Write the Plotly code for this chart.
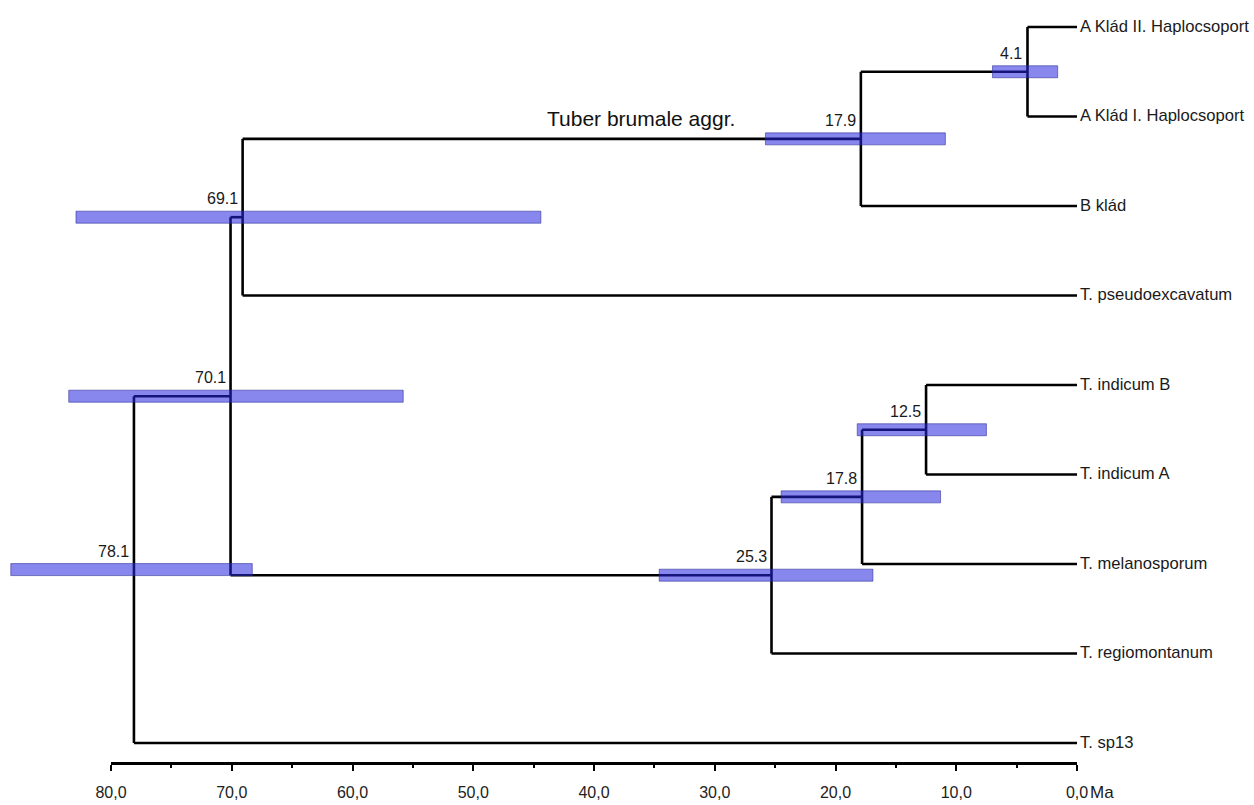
import plotly.graph_objects as go

# Tips, top to bottom
tip_names = [
    "A Klád II. Haplocsoport",
    "A Klád I. Haplocsoport",
    "B klád",
    "T. pseudoexcavatum",
    "T. indicum B",
    "T. indicum A",
    "T. melanosporum",
    "T. regiomontanum",
    "T. sp13",
]

# Internal nodes (children listed before parents): age in Ma and 95% HPD interval
node_ages = [4.1, 17.9, 69.1, 12.5, 17.8, 25.3, 70.1, 78.1]
hpd_low = [1.6, 10.9, 44.4, 7.5, 11.3, 16.9, 55.8, 68.3]
hpd_high = [7.0, 25.8, 82.9, 18.2, 24.5, 34.6, 83.5, 88.3]
node_children = [
    ("t0", "t1"),
    ("n0", "t2"),
    ("n1", "t3"),
    ("t4", "t5"),
    ("n3", "t6"),
    ("n4", "t7"),
    ("n2", "n5"),
    ("n6", "t8"),
]

clade_name = "Tuber brumale aggr."
clade_node = 1
clade_label_age = 36.1

axis_ticks = [80, 70, 60, 50, 40, 30, 20, 10, 0]
axis_tick_labels = ["80,0", "70,0", "60,0", "50,0", "40,0", "30,0", "20,0", "10,0", "0,0"]
axis_minor_ticks = [75, 65, 55, 45, 35, 25, 15, 5]
axis_unit = "Ma"

FONT = "Liberation Sans, Arial, sans-serif"
W, H = 1254, 805
PX_PER_TIP = 89.5
TOP_TIP_PX = 27
X_LEFT_PX, X_RIGHT_PX = 111, 1077
PX_PER_MA = (X_RIGHT_PX - X_LEFT_PX) / 80.0
AXIS_LINE_PX = 763

# --- layout of the tree -----------------------------------------------------
node_y = []


def position(ref):
    kind, idx = ref[0], int(ref[1:])
    if kind == "t":
        return 0.0, float(idx)
    return node_ages[idx], node_y[idx]


for a, b in node_children:
    node_y.append((position(a)[1] + position(b)[1]) / 2.0)

bx, by = [], []
for j, (a, b) in enumerate(node_children):
    age = node_ages[j]
    xa, ya = position(a)
    xb, yb = position(b)
    bx += [age, age, None]
    by += [ya, yb, None]
    for xc, yc in ((xa, ya), (xb, yb)):
        bx += [age, xc, None]
        by += [yc, yc, None]

fig = go.Figure()

# branches
fig.add_trace(go.Scatter(
    x=bx, y=by, mode="lines",
    line=dict(color="#000000", width=2.6),
    hoverinfo="skip", showlegend=False,
))

# time-scale axis (separate x axis spanning 80 -> 0 Ma)
fig.add_trace(go.Scatter(
    x=axis_ticks, y=[0] * len(axis_ticks), xaxis="x2", yaxis="y",
    mode="markers", marker=dict(opacity=0), hoverinfo="skip", showlegend=False,
))

# HPD bars, drawn over the branches
bar_half = 6.0 / PX_PER_TIP
shapes = []
for j, age in enumerate(node_ages):
    shapes.append(dict(
        type="rect", xref="x", yref="y", layer="above",
        x0=hpd_high[j], x1=hpd_low[j],
        y0=node_y[j] - bar_half, y1=node_y[j] + bar_half,
        fillcolor="rgba(36,36,224,0.55)",
        line=dict(color="rgba(40,40,150,0.55)", width=1),
    ))

annotations = []

# tip labels
for i, name in enumerate(tip_names):
    annotations.append(dict(
        x=0, y=i, xref="x", yref="y",
        text=name, showarrow=False, borderpad=0,
        xanchor="left", yanchor="middle", xshift=2, yshift=1,
        font=dict(family=FONT, size=16.6, color="#1a1a1a"),
    ))

# node ages
for j, age in enumerate(node_ages):
    annotations.append(dict(
        x=age, y=node_y[j], xref="x", yref="y",
        text=f"{age:.1f}", showarrow=False,
        xanchor="right", yanchor="middle", xshift=-3, yshift=18.5,
        font=dict(family=FONT, size=16, color="#1a1a1a"),
    ))

annotations.append(dict(
    x=clade_label_age, y=node_y[clade_node], xref="x", yref="y",
    text=clade_name, showarrow=False,
    xanchor="center", yanchor="middle", yshift=20,
    font=dict(family=FONT, size=21, color="#111111"),
))

annotations.append(dict(
    x=0, y=1 - 792 / H, xref="x2", yref="paper",
    text=axis_unit, showarrow=False,
    xanchor="left", yanchor="middle", xshift=11,
    font=dict(family=FONT, size=17, color="#1a1a1a"),
))

x_range = [80 + X_LEFT_PX / PX_PER_MA, -(W - X_RIGHT_PX) / PX_PER_MA]
y_range = [(H - TOP_TIP_PX) / PX_PER_TIP, -TOP_TIP_PX / PX_PER_TIP]

fig.update_layout(
    width=W, height=H, autosize=False,
    margin=dict(l=0, r=0, t=0, b=0, pad=0, autoexpand=False),
    paper_bgcolor="white", plot_bgcolor="rgba(0,0,0,0)",
    shapes=shapes, annotations=annotations,
    xaxis=dict(range=x_range, visible=False, domain=[0, 1], automargin=False),
    yaxis=dict(range=y_range, visible=False, domain=[0, 1], automargin=False),
    xaxis2=dict(
        domain=[X_LEFT_PX / W, X_RIGHT_PX / W], range=[80, 0],
        anchor="free", position=(H - AXIS_LINE_PX) / H, side="bottom",
        showline=True, linecolor="#000000", linewidth=2.5,
        ticks="outside", ticklen=6, tickwidth=2, tickcolor="#000000",
        tickvals=axis_ticks, ticktext=axis_tick_labels,
        tickfont=dict(family=FONT, size=16, color="#222222"),
        ticklabelstandoff=8, automargin=False,
        minor=dict(ticks="outside", ticklen=3, tickwidth=1.5,
                   tickcolor="#000000", tickvals=axis_minor_ticks),
        showgrid=False, zeroline=False, fixedrange=True,
    ),
    showlegend=False,
)

fig.write_html("out.html", config={"responsive": False})
